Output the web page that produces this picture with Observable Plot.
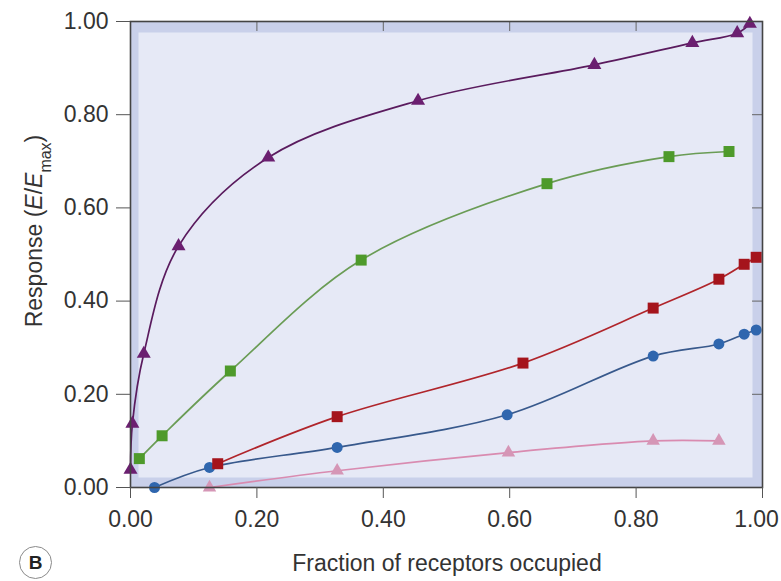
<!DOCTYPE html>
<html><head><meta charset="utf-8">
<script src="https://cdn.jsdelivr.net/npm/d3@7"></script>
<script src="https://cdn.jsdelivr.net/npm/@observablehq/plot@0.6"></script>
<style>
html,body{margin:0;padding:0;background:#fff;overflow:hidden;}
#wrap{position:relative;width:781px;height:581px;}
#badge{position:absolute;left:19px;top:546px;width:33px;height:33px;border:1.5px solid #8a8a8a;border-radius:50%;font:600 19px "Liberation Sans",Arial,sans-serif;color:#222;display:flex;align-items:center;justify-content:center;box-sizing:border-box;}
</style></head><body><div id="wrap"></div>
<script>
// Data
const purpleX = [0.000, 0.003, 0.021, 0.076, 0.218, 0.455, 0.734, 0.889, 0.960, 0.980];
const purpleY = [0.038, 0.137, 0.287, 0.518, 0.708, 0.830, 0.907, 0.954, 0.975, 0.995];
const greenX  = [0.014, 0.050, 0.158, 0.365, 0.659, 0.852, 0.947];
const greenY  = [0.062, 0.111, 0.250, 0.488, 0.652, 0.710, 0.721];
const redX    = [0.138, 0.327, 0.621, 0.827, 0.931, 0.971, 0.990];
const redY    = [0.051, 0.152, 0.267, 0.385, 0.447, 0.479, 0.494];
const blueX   = [0.038, 0.125, 0.327, 0.596, 0.827, 0.931, 0.971, 0.990];
const blueY   = [0.000, 0.043, 0.086, 0.156, 0.282, 0.308, 0.329, 0.338];
const pinkX   = [0.125, 0.327, 0.598, 0.827, 0.931];
const pinkY   = [0.000, 0.036, 0.075, 0.100, 0.100];
const xTicks = [0, 0.2, 0.4, 0.6, 0.8, 1.0];
const yTicks = [0, 0.2, 0.4, 0.6, 0.8, 1.0];
const innerTicks = [0.2, 0.4, 0.6, 0.8];
const xTitle = "Fraction of receptors occupied";

const rows = (xs, ys) => xs.map((x, i) => ({x, y: ys[i]}));
const series = [
  {data: rows(pinkX, pinkY), line: "#d98bb0", fill: "#d596b6", symbol: "triangle", r: 5},
  {data: rows(blueX, blueY), line: "#38598c", fill: "#2f66ae", symbol: "circle", r: 5.5},
  {data: rows(redX, redY), line: "#b0252b", fill: "#a5141c", symbol: "square", r: 6.2},
  {data: rows(greenX, greenY), line: "#6a9c55", fill: "#4e9a2b", symbol: "square", r: 6.2},
  {data: rows(purpleX, purpleY), line: "#5a1b5e", fill: "#6b1f70", symbol: "triangle", r: 5.2}
];

const fmt = d3.format(".2f");
const lastX = xTicks[xTicks.length - 1];
const marks = [
  Plot.frame({fill: "#c9d0ea"}),
  Plot.frame({fill: "#e6e9f6", insetLeft: 8, insetTop: 11, insetRight: 10, insetBottom: 10}),
  Plot.tickX(innerTicks, {x: d => d, insetBottom: 456, stroke: "#666", strokeWidth: 1}),
  Plot.tickY(innerTicks, {y: d => d, insetLeft: 622, stroke: "#666", strokeWidth: 1})
];
for (const s of series) {
  marks.push(Plot.line(s.data, {x: "x", y: "y", stroke: s.line, strokeWidth: 1.7, curve: "catmull-rom"}));
  marks.push(Plot.dot(s.data, {x: "x", y: "y", symbol: s.symbol, r: s.r, fill: s.fill, stroke: "none"}));
}
marks.push(
  Plot.frame({stroke: "#444", strokeWidth: 1.6}),
  Plot.axisX({ticks: xTicks, tickSize: 11, tickPadding: 12, tickFormat: d => d === lastX ? "" : fmt(d), stroke: "#555", fill: "#333", label: null}),
  Plot.axisX({ticks: [lastX], tickSize: 0, tickPadding: 23, dx: -6, tickFormat: fmt, fill: "#333", label: null}),
  Plot.axisY({ticks: yTicks, tickSize: 14, tickPadding: 8, tickFormat: fmt, stroke: "#555", fill: "#333", label: null})
);

const chart = Plot.plot({
  width: 781,
  height: 581,
  marginLeft: 130,
  marginRight: 19,
  marginTop: 21,
  marginBottom: 94,
  x: {domain: [0, 1]},
  y: {domain: [0, 1]},
  style: {fontFamily: "'Liberation Sans', Arial, Helvetica, sans-serif", fontSize: "23px", color: "#333", background: "transparent", overflow: "visible"},
  marks
});

const svg = d3.select(chart);
// X axis title
svg.append("text")
  .attr("x", 447).attr("y", 571)
  .attr("text-anchor", "middle")
  .attr("fill", "#333")
  .style("font-size", "23px")
  .text(xTitle);
// Y axis title with italic E and subscript
const yt = svg.append("text")
  .attr("transform", "translate(42,231) rotate(-90)")
  .attr("text-anchor", "middle")
  .attr("fill", "#333")
  .style("font-size", "23px");
yt.append("tspan").text("Response (");
yt.append("tspan").attr("font-style", "italic").text("E");
yt.append("tspan").text("/");
yt.append("tspan").attr("font-style", "italic").text("E");
yt.append("tspan").attr("baseline-shift", "sub").style("font-size", "16px").text("max");
yt.append("tspan").text(")");

const wrap = document.getElementById("wrap");
wrap.appendChild(chart);
const badge = document.createElement("div");
badge.id = "badge";
badge.textContent = "B";
wrap.appendChild(badge);
</script>
</body></html>
